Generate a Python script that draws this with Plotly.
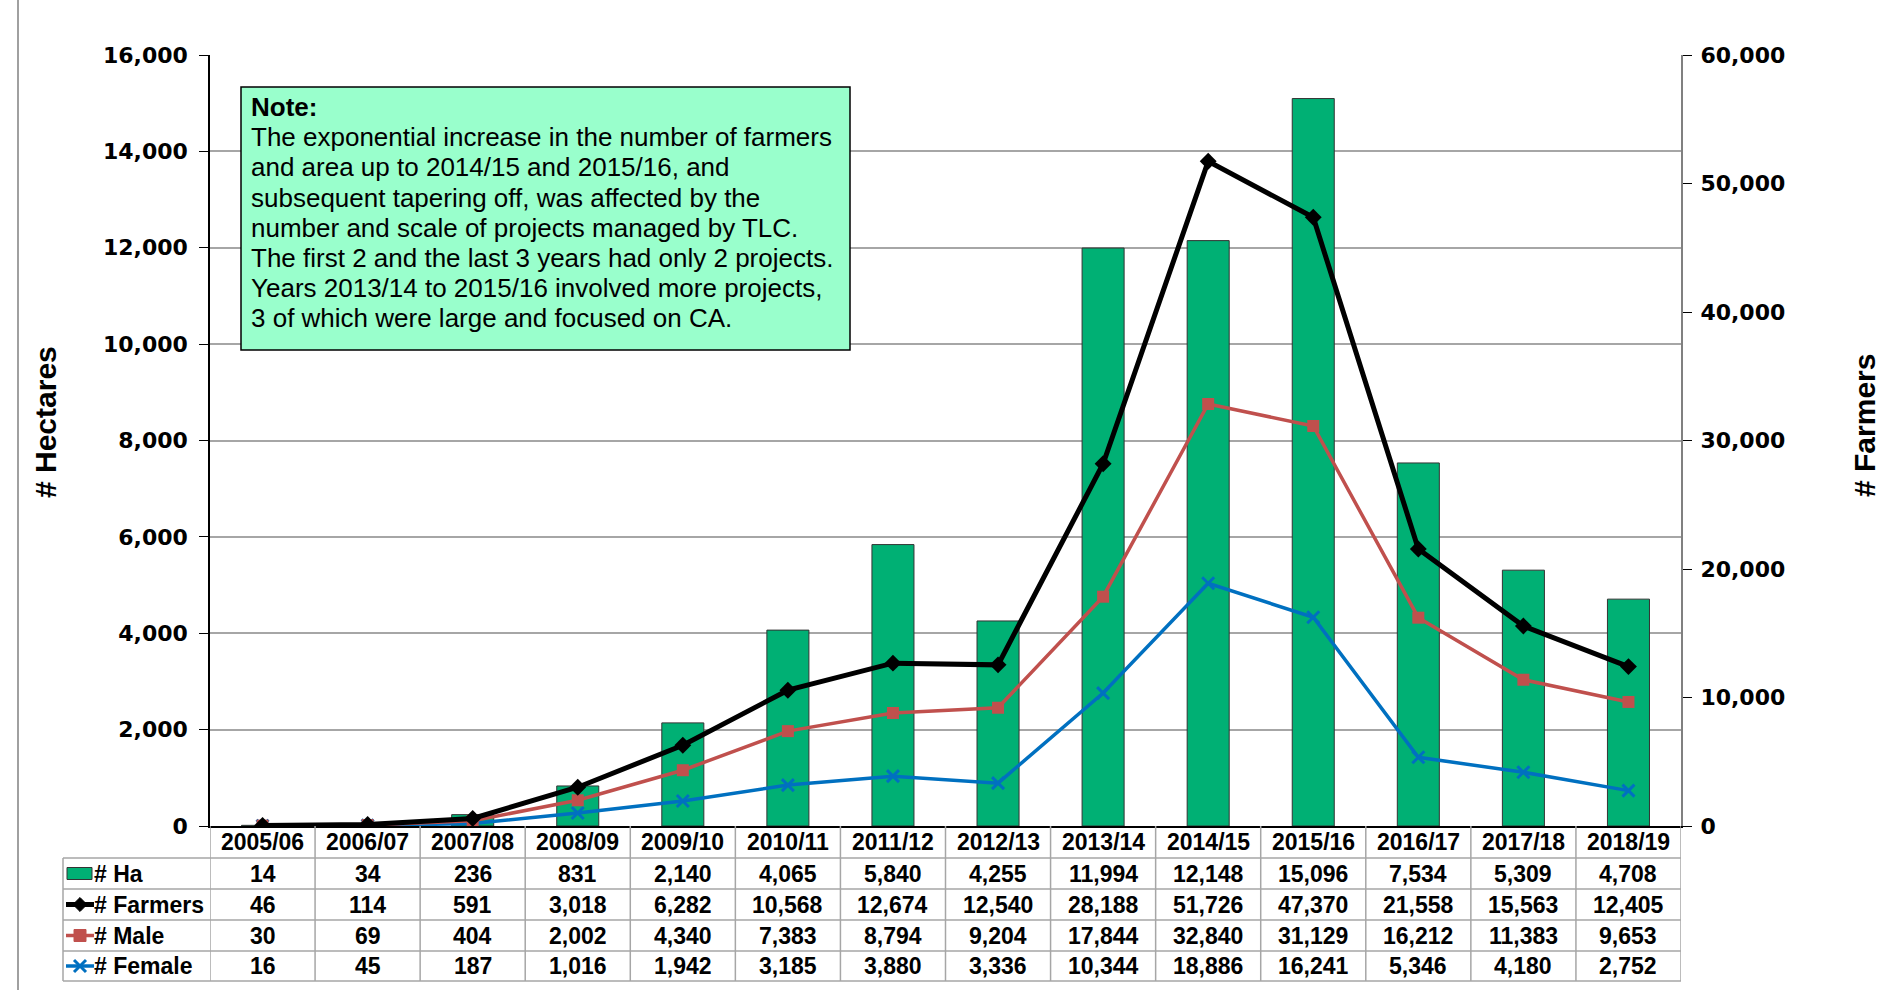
import plotly.graph_objects as go

years = ["2005/06", "2006/07", "2007/08", "2008/09", "2009/10", "2010/11", "2011/12",
         "2012/13", "2013/14", "2014/15", "2015/16", "2016/17", "2017/18", "2018/19"]
ha = [14, 34, 236, 831, 2140, 4065, 5840, 4255, 11994, 12148, 15096, 7534, 5309, 4708]
farmers = [46, 114, 591, 3018, 6282, 10568, 12674, 12540, 28188, 51726, 47370, 21558, 15563, 12405]
male = [30, 69, 404, 2002, 4340, 7383, 8794, 9204, 17844, 32840, 31129, 16212, 11383, 9653]
female = [16, 45, 187, 1016, 1942, 3185, 3880, 3336, 10344, 18886, 16241, 5346, 4180, 2752]

note_lines = ["<b>Note:</b>",
              "The exponential increase in the number of farmers",
              "and area up to 2014/15 and 2015/16, and",
              "subsequent tapering off, was affected by the",
              "number and scale of projects managed by TLC.",
              "The first 2 and the last 3 years had only 2 projects.",
              "Years 2013/14 to 2015/16 involved more projects,",
              "3 of which were large and focused on CA."]

W, H = 1888, 990
L, R, T, B = 210, 1681, 55, 826
PW, PH = R - L, B - T

def px(xp):
    return (xp - L) / PW

def py(yp):
    return (B - yp) / PH

GREEN = "#00B074"
RED = "#C0504D"
BLUE = "#0070C0"

fig = go.Figure()
fig.add_trace(go.Bar(x=years, y=ha, name="# Ha", marker=dict(color=GREEN, line=dict(color="#333333", width=1)),
                     width=0.4, yaxis="y"))
fig.add_trace(go.Scatter(x=years, y=female, name="# Female", mode="lines+markers", yaxis="y2",
                         line=dict(color=BLUE, width=3.5),
                         marker=dict(symbol="x-thin", size=12, line=dict(color=BLUE, width=3))))
fig.add_trace(go.Scatter(x=years, y=male, name="# Male", mode="lines+markers", yaxis="y2",
                         line=dict(color=RED, width=3.5),
                         marker=dict(symbol="square", size=12, color=RED)))
fig.add_trace(go.Scatter(x=years, y=farmers, name="# Farmers", mode="lines+markers", yaxis="y2",
                         line=dict(color="black", width=5),
                         marker=dict(symbol="diamond", size=13, color="black")))

tickfont = dict(family="DejaVu Sans", size=22, color="black", weight="bold")

shapes = []
annotations = []

# Table geometry (pixels)
row_lines = [B, 858, 889, 920, 951, 981]
row_centers = [(row_lines[i] + row_lines[i + 1]) / 2 for i in range(5)]
LEG_L = 63
GRID = "#A6A6A6"

for yl in row_lines[1:]:
    shapes.append(dict(type="line", xref="paper", yref="paper", x0=px(LEG_L), x1=px(R),
                       y0=py(yl), y1=py(yl), line=dict(color=GRID, width=1.5)))
n = len(years)
for i in range(n + 1):
    shapes.append(dict(type="line", xref="x", yref="paper", x0=i - 0.5, x1=i - 0.5,
                       y0=py(B), y1=py(row_lines[-1]), line=dict(color=GRID, width=1.5)))
shapes.append(dict(type="line", xref="paper", yref="paper", x0=px(LEG_L), x1=px(LEG_L),
                   y0=py(row_lines[1]), y1=py(row_lines[-1]), line=dict(color=GRID, width=1.5)))
# outer chart border on the left
shapes.append(dict(type="line", xref="paper", yref="paper", x0=px(18), x1=px(18),
                   y0=py(0), y1=py(H), line=dict(color="#808080", width=1.5)))

cellfont = dict(family="Liberation Sans", size=23, color="black")
for i, yr in enumerate(years):
    annotations.append(dict(x=yr, xref="x", y=py(row_centers[0]), yref="paper",
                            text="<b>%s</b>" % yr, showarrow=False, font=cellfont,
                            xanchor="center", yanchor="middle"))
series_rows = [("# Ha", ha), ("# Farmers", farmers), ("# Male", male), ("# Female", female)]
for r, (name, vals) in enumerate(series_rows):
    yc = row_centers[r + 1]
    for i, v in enumerate(vals):
        annotations.append(dict(x=years[i], xref="x", y=py(yc), yref="paper",
                                text="<b>{:,}</b>".format(v), showarrow=False, font=cellfont,
                                xanchor="center", yanchor="middle"))
    annotations.append(dict(x=px(LEG_L + 29), xref="paper", y=py(yc), yref="paper",
                            text="<b>%s</b>" % name, showarrow=False, font=cellfont,
                            xanchor="left", yanchor="middle"))

# legend keys
sx0, sx1 = LEG_L + 3, LEG_L + 31
cx = (sx0 + sx1) / 2
ky = row_centers[1]
shapes.append(dict(type="rect", xref="paper", yref="paper", x0=px(LEG_L + 4), x1=px(LEG_L + 29),
                   y0=py(ky - 6), y1=py(ky + 6), fillcolor=GREEN, line=dict(color="#333333", width=1)))
ky = row_centers[2]
shapes.append(dict(type="line", xref="paper", yref="paper", x0=px(sx0), x1=px(sx1),
                   y0=py(ky), y1=py(ky), line=dict(color="black", width=5)))
shapes.append(dict(type="path", xref="paper", yref="paper",
                   path="M %f,%f L %f,%f L %f,%f L %f,%f Z" % (
                       px(cx - 7), py(ky), px(cx), py(ky - 7), px(cx + 7), py(ky), px(cx), py(ky + 7)),
                   fillcolor="black", line=dict(color="black", width=1)))
ky = row_centers[3]
shapes.append(dict(type="line", xref="paper", yref="paper", x0=px(sx0), x1=px(sx1),
                   y0=py(ky), y1=py(ky), line=dict(color=RED, width=3.5)))
shapes.append(dict(type="rect", xref="paper", yref="paper", x0=px(cx - 6), x1=px(cx + 6),
                   y0=py(ky - 6), y1=py(ky + 6), fillcolor=RED, line=dict(color=RED, width=1)))
ky = row_centers[4]
shapes.append(dict(type="line", xref="paper", yref="paper", x0=px(sx0), x1=px(sx1),
                   y0=py(ky), y1=py(ky), line=dict(color=BLUE, width=3.5)))
for dx in (-1, 1):
    shapes.append(dict(type="line", xref="paper", yref="paper", x0=px(cx - 6 * dx), x1=px(cx + 6 * dx),
                       y0=py(ky - 6), y1=py(ky + 6), line=dict(color=BLUE, width=3)))

# axis titles
titlefont = dict(family="Liberation Sans", size=30, color="black")
annotations.append(dict(x=px(45), xref="paper", y=py(422), yref="paper", text="<b># Hectares</b>",
                        textangle=-90, showarrow=False, font=titlefont, xanchor="center", yanchor="middle"))
annotations.append(dict(x=px(1865), xref="paper", y=py(426), yref="paper", text="<b># Farmers</b>",
                        textangle=-90, showarrow=False, font=titlefont, xanchor="center", yanchor="middle"))

# note box
shapes.append(dict(type="rect", xref="paper", yref="paper", x0=px(241), x1=px(850),
                   y0=py(87), y1=py(350), fillcolor="#99FFCC", line=dict(color="black", width=1.5),
                   layer="above"))
notefont = dict(family="Liberation Sans", size=26, color="black")
for k, line in enumerate(note_lines):
    annotations.append(dict(x=px(249), xref="paper", y=py(107 + 30.2 * k), yref="paper", text=line,
                            showarrow=False, xanchor="left", yanchor="middle", font=notefont))

fig.update_layout(
    width=W, height=H,
    margin=dict(l=L, r=W - R, t=T, b=H - B, pad=0),
    paper_bgcolor="white", plot_bgcolor="white",
    showlegend=False,
    xaxis=dict(type="category", showticklabels=False, showgrid=False, showline=True,
               linecolor="black", linewidth=1.5, ticks="", range=[-0.5, n - 0.5]),
    yaxis=dict(range=[0, 16000], dtick=2000, tickformat=",d", showgrid=True, gridcolor="#A6A6A6",
               gridwidth=1.5, showline=True, linecolor="black", linewidth=1.5, ticks="outside",
               ticklen=9, tickcolor="black", tickfont=tickfont, ticklabelstandoff=7, zeroline=False),
    yaxis2=dict(range=[0, 60000], dtick=10000, tickformat=",d", overlaying="y", side="right",
                showgrid=False, showline=True, linecolor="#808080", linewidth=2, ticks="outside",
                ticklen=9, tickcolor="black", tickfont=tickfont, ticklabelstandoff=4, zeroline=False),
    shapes=shapes,
    annotations=annotations,
)

fig.write_html("out.html")
